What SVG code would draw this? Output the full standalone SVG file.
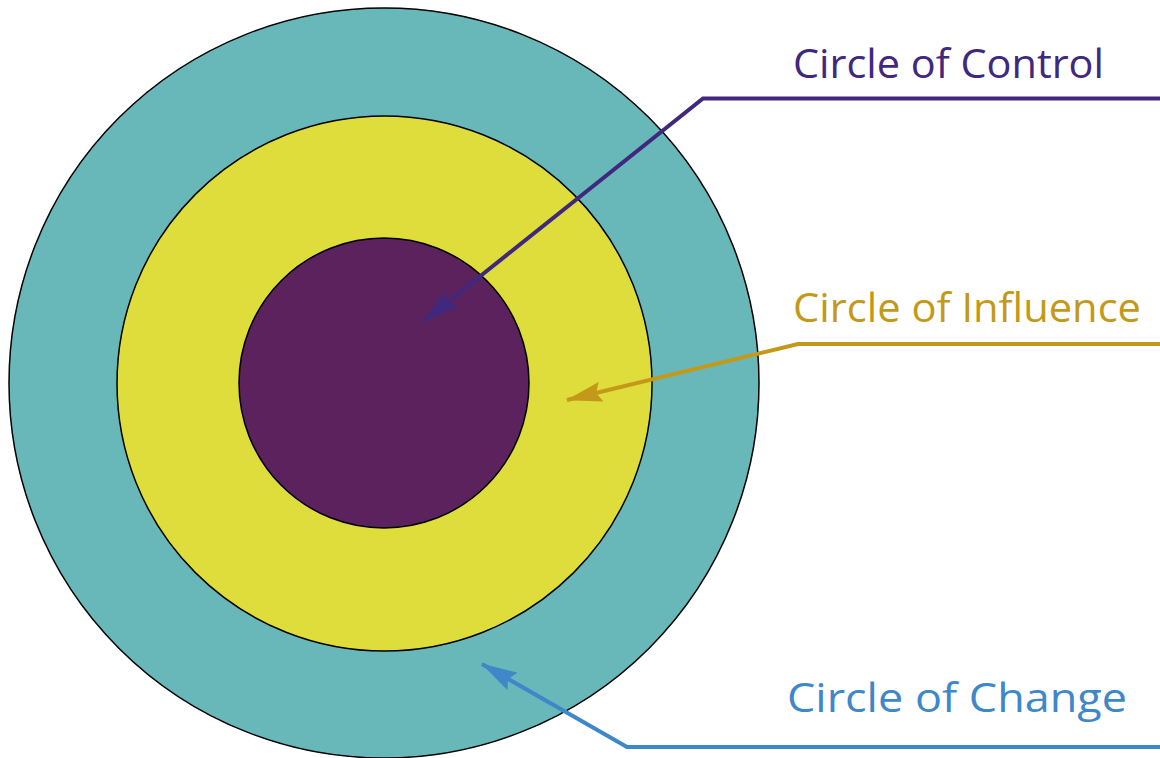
<svg xmlns="http://www.w3.org/2000/svg" width="1160" height="758" viewBox="0 0 1160 758">
<style>
.ring{stroke:#000;stroke-width:1.5}
.lbl{font-family:"Open Sans","Liberation Sans",sans-serif;font-size:41px}
.con{fill:none;stroke-width:4}
</style>
<defs>
<marker id="mC" viewBox="0 0 36 20" refX="35" refY="10" markerWidth="36" markerHeight="20" markerUnits="userSpaceOnUse" orient="auto"><path d="M0,0 L36,10 L0,20 L5,10 Z" fill="#40287F"/></marker>
<marker id="mI" viewBox="0 0 36 20" refX="35" refY="10" markerWidth="36" markerHeight="20" markerUnits="userSpaceOnUse" orient="auto"><path d="M0,0 L36,10 L0,20 L5,10 Z" fill="#C4991A"/></marker>
<marker id="mG" viewBox="0 0 36 20" refX="35" refY="10" markerWidth="36" markerHeight="20" markerUnits="userSpaceOnUse" orient="auto"><path d="M0,0 L36,10 L0,20 L5,10 Z" fill="#3E87C8"/></marker>
</defs>
<rect width="1160" height="758" fill="#fff"/>
<g id="change"><circle class="ring" cx="384" cy="383" r="375" fill="#68B8B9"/></g>
<g id="influence"><circle class="ring" cx="384.5" cy="383.5" r="267.5" fill="#DEDD3C"/></g>
<g id="control"><circle class="ring" cx="384" cy="383" r="145" fill="#5C225E"/></g>
<g id="connectors">
<polyline class="con" stroke="#40287F" points="1160,98.5 703,98.5 424,321" marker-end="url(#mC)"/>
<polyline class="con" stroke="#C4991A" points="1160,344 798,344 567,400" marker-end="url(#mI)"/>
<polyline class="con" stroke="#3E87C8" points="1160,747 627,747 482,664" marker-end="url(#mG)"/>
</g>
<g id="labels">
<text class="lbl" x="793" y="78" fill="#40287F" textLength="311" lengthAdjust="spacingAndGlyphs">Circle of Control</text>
<text class="lbl" x="793" y="322" fill="#C4991A" textLength="348" lengthAdjust="spacingAndGlyphs">Circle of Influence</text>
<text class="lbl" x="787" y="712" fill="#3E87C8" textLength="340" lengthAdjust="spacingAndGlyphs">Circle of Change</text>
</g>
</svg>
